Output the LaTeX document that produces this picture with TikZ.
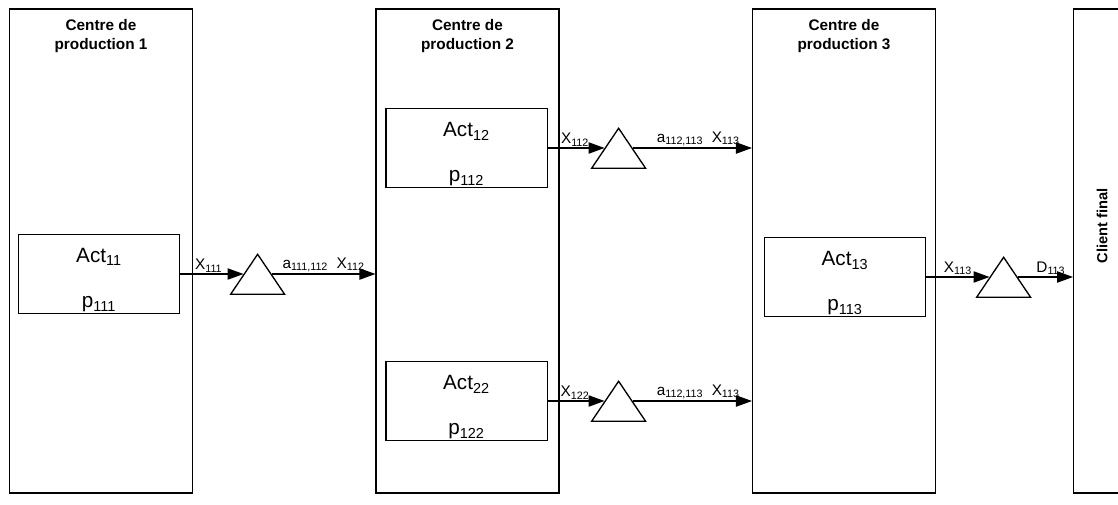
\documentclass[tikz,border=0pt]{standalone}
\usepackage{fontspec}
\setmainfont{Liberation Sans}
\usetikzlibrary{arrows.meta, positioning, shapes.geometric}
\newcommand\acttexte[2]{\rule{0pt}{20pt}Act\textsubscript{#1}\\[16pt]p\textsubscript{#2}}

\begin{document}
\begin{tikzpicture}[x=0.75pt, y=-0.75pt,
    centre/.style={draw, line width=1.1pt, minimum width=137pt, minimum height=363pt},
    titre/.style={anchor=north, align=center, font=\fontsize{11.5}{14}\selectfont\bfseries},
    act/.style={draw, line width=1pt, minimum width=121pt, minimum height=59pt, inner ysep=0pt, align=center, font=\fontsize{15.5}{18}\selectfont},
    stock/.style={draw, line width=1pt, isosceles triangle, isosceles triangle apex angle=68, shape border rotate=90, minimum height=30pt, inner sep=0pt},
    flux/.style={line width=0.9pt, -{Triangle[length=12pt, width=8.5pt]}},
    etiq/.style={above, inner sep=1pt, font=\fontsize{11.5}{13}\selectfont}]
  \useasboundingbox (0,0) rectangle (1118,504);
  \node[centre] (cp1) at (101,251) {};
  \node[centre] (cp2) at (467.5,251) {};
  \node[centre] (cp3) at (844,251) {};
  \node[draw, line width=1.1pt, minimum width=45pt, minimum height=363pt, anchor=west] (cf) at (1073,251) {};
  \node[titre] at ([yshift=-5pt]cp1.north) {Centre de\\production 1};
  \node[titre] at ([yshift=-5pt]cp2.north) {Centre de\\production 2};
  \node[titre] at ([yshift=-5pt]cp3.north) {Centre de\\production 3};
  \node[rotate=90, font=\fontsize{11}{13}\selectfont\bfseries] at (1102,226) {Client final};

  \node[act] (a11) at (99,274) {\acttexte{11}{111}};
  \node[act] (a12) at (466.5,148) {\acttexte{12}{112}};
  \node[act] (a22) at (466.5,401) {\acttexte{22}{122}};
  \node[act] (a13) at (845,277) {\acttexte{13}{113}};

  \node[stock, anchor=left side] (s1) at (243.5,274) {};
  \node[stock, anchor=left side] (s2) at (604.5,148) {};
  \node[stock, anchor=left side] (s3) at (604.5,401) {};
  \node[stock, anchor=left side] (s4) at (989.5,277) {};

  \draw[flux] (a11.east) -- node[etiq, pos=0.45] {X\textsubscript{111}} (s1.left side);
  \draw[flux] (s1.right side) -- node[etiq] {a\textsubscript{111,112}\ \ X\textsubscript{112}} (s1.right side -| cp2.west);
  \draw[flux] (a12.east) -- node[etiq, pos=0.48] {X\textsubscript{112}} (s2.left side);
  \draw[flux] (s2.right side) -- node[etiq, pos=0.55] {a\textsubscript{112,113}\ \ X\textsubscript{113}} (s2.right side -| cp3.west);
  \draw[flux] (a22.east) -- node[etiq, pos=0.48] {X\textsubscript{122}} (s3.left side);
  \draw[flux] (s3.right side) -- node[etiq, pos=0.55] {a\textsubscript{112,113}\ \ X\textsubscript{113}} (s3.right side -| cp3.west);
  \draw[flux] (a13.east) -- node[etiq, pos=0.5] {X\textsubscript{113}} (s4.left side);
  \draw[flux] (s4.right side) -- node[etiq, pos=0.6] {D\textsubscript{113}} (s4.right side -| cf.west);
\end{tikzpicture}
\end{document}
